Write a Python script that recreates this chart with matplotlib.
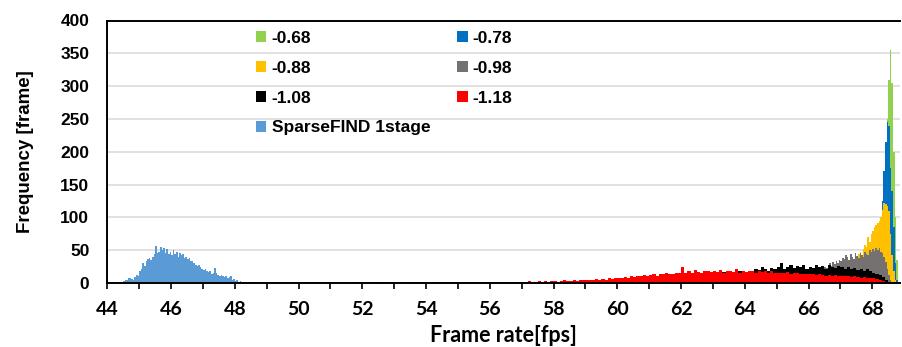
import numpy as np
import matplotlib
matplotlib.use("Agg")
import matplotlib.pyplot as plt
from matplotlib.patches import Patch

# ---------------- data (frequency per frame-rate bin) ----------------
sf_start, sf_width = 44.30, 0.05
sf_vals = [1, 1, 2, 2, 3, 4, 5, 8, 7, 6, 5, 9, 12, 10, 18, 22, 30, 26, 34, 36,
           38, 35, 40, 44, 56, 45, 48, 55, 50, 54, 46, 52, 44, 48, 42, 50, 44, 47, 40, 45,
           42, 44, 38, 40, 36, 38, 33, 34, 30, 28, 26, 27, 24, 22, 20, 21, 19, 17, 18, 14,
           16, 23, 15, 12, 11, 12, 10, 9, 10, 8, 9, 10, 5, 6, 3, 4, 2, 3, 2, 1,
           1, 2, 1, 1, 1, 0, 1, 0, 1, 0, 1, 0, 0, 1]

red_start, red_width = 50.0, 0.1
red_vals = [0, 0, 1, 0, 0, 1, 0, 0, 0, 1,
            0, 1, 0, 0, 1, 0, 0, 1, 0, 0,
            1, 0, 1, 0, 0, 1, 1, 0, 1, 0,
            1, 1, 0, 1, 0, 1, 1, 0, 1, 1,
            1, 0, 1, 1, 1, 0, 1, 1, 2, 1,
            1, 1, 2, 1, 1, 2, 1, 1, 2, 1,
            2, 1, 2, 2, 1, 2, 2, 1, 2, 2,
            2, 2, 3, 2, 2, 3, 2, 3, 2, 3,
            3, 2, 3, 4, 3, 3, 4, 3, 4, 5,
            4, 5, 4, 6, 5, 6, 5, 7, 6, 7,
            8, 7, 9, 8, 10, 9, 11, 10, 12, 11,
            12, 13, 11, 14, 13, 15, 14, 13, 16, 15,
            24, 16, 18, 15, 20, 17, 16, 19, 18, 17,
            19, 17, 20, 16, 18, 19, 17, 21, 16, 18,
            17, 19, 18, 16, 19, 17, 18, 16, 18, 16,
            16, 15, 16, 17, 14, 16, 15, 14, 13, 14,
            13, 14, 12, 13, 12, 11, 12, 11, 12, 10,
            11, 10, 10, 9, 10, 9, 8, 9, 8, 8,
            7, 6, 5, 3, 2, 1]

blk_start, blk_width = 59.0, 0.1
blk_vals = [1, 1, 2, 1, 2, 2, 3, 2, 3, 3,
            3, 4, 4, 5, 4, 5, 6, 5, 6, 7,
            7, 8, 7, 9, 8, 10, 9, 10, 11, 10,
            12, 11, 13, 12, 14, 13, 12, 14, 15, 13,
            14, 16, 15, 17, 16, 18, 17, 16, 19, 18,
            17, 19, 18, 22, 20, 24, 21, 19, 23, 22,
            24, 31, 22, 25, 27, 23, 26, 24, 28, 22,
            25, 23, 27, 24, 26, 22, 28, 25, 23, 26,
            24, 22, 25, 21, 23, 20, 22, 19, 21, 18,
            16, 14, 12, 9, 5, 2]

gry_start, gry_width = 65.0, 0.05
gry_vals = [3, 4, 5, 5, 6, 7, 6, 8, 9, 8, 10, 9, 11, 12, 10, 13, 12, 14, 15, 14,
            16, 15, 18, 20, 17, 22, 19, 24, 21, 26, 25, 23, 28, 30, 26, 32, 29, 34, 31, 35,
            33, 38, 36, 42, 39, 35, 44, 40, 37, 45, 41, 38, 46, 43, 40, 48, 44, 42, 50, 47,
            52, 49, 54, 50, 53, 48, 45, 40, 32, 22, 12, 4]

yel_start, yel_width = 66.5, 0.05
yel_vals = [3, 4, 5, 6, 6, 8, 9, 10, 12, 14, 15, 17, 18, 20, 22, 25, 28, 30, 33, 36,
            40, 44, 47, 42, 52, 58, 55, 70, 62, 74, 80, 85, 88, 92, 95, 100, 112, 122, 121, 118,
            110, 75, 42, 18, 4]

blu_start, blu_width = 67.8, 0.05
blu_vals = [10, 15, 20, 25, 35, 45, 55, 65, 80, 100, 125, 170, 215, 246, 240, 175, 140, 85, 30, 5]

grn_start, grn_width = 68.0, 0.05
grn_vals = [20, 30, 40, 55, 70, 90, 120, 150, 190, 250, 310, 355, 305, 200, 100, 35]

x_ticks = [44, 46, 48, 50, 52, 54, 56, 58, 60, 62, 64, 66, 68]
y_ticks = [0, 50, 100, 150, 200, 250, 300, 350, 400]

series = [
    ("SparseFIND 1stage", sf_start, sf_width, sf_vals, "#5b9bd5"),
    ("-0.68", grn_start, grn_width, grn_vals, "#92d050"),
    ("-0.78", blu_start, blu_width, blu_vals, "#0070c0"),
    ("-0.88", yel_start, yel_width, yel_vals, "#ffc000"),
    ("-0.98", gry_start, gry_width, gry_vals, "#767171"),
    ("-1.08", blk_start, blk_width, blk_vals, "#000000"),
    ("-1.18", red_start, red_width, red_vals, "#ff0000"),
]

# ---------------- figure ----------------
W, H = 902, 347
fig = plt.figure(figsize=(W / 100, H / 100), dpi=100)
ax = fig.add_axes([107.4 / W, 1 - 283 / H, (900 - 107.4) / W, (283 - 20.5) / H])

handles = {}
for i, (name, start, width, vals, col) in enumerate(series):
    v = np.asarray(vals, dtype=float)
    edges = start + np.arange(len(v) + 1) * width
    ax.stairs(v, edges, fill=True, color=col, linewidth=0, zorder=2 + i)
    handles[name] = Patch(facecolor=col, edgecolor="none")

ax.set_xlim(44, 68.87)
ax.set_ylim(0, 400)
ax.set_yticks(y_ticks)
ax.set_xticks(x_ticks)
ax.set_xticks(np.arange(44, 69, 1), minor=True)
ax.grid(axis="y", color="#d9d9d9", linewidth=1.1, zorder=0)
ax.set_axisbelow(True)

for s in ["left", "bottom", "top"]:
    ax.spines[s].set_color("black")
    ax.spines[s].set_linewidth(1.4)
    ax.spines[s].set_zorder(20)
ax.spines["right"].set_visible(False)

ax.tick_params(axis="y", length=0, pad=13)
ax.tick_params(axis="x", which="both", direction="out", length=4, width=1.2, color="black", pad=9)
for t in ax.get_yticklabels():
    t.set_fontfamily("Liberation Sans")
    t.set_fontweight("bold")
    t.set_fontsize(12.5)
for t in ax.get_xticklabels():
    t.set_fontfamily("Lato")
    t.set_fontweight("bold")
    t.set_fontsize(14)

ax.set_xlabel("Frame rate[fps]", fontfamily="Lato", fontweight="bold", fontsize=15.5, labelpad=5)
ax.set_ylabel("Frequency [frame]", fontfamily="Liberation Sans", fontweight="bold", fontsize=13.5, labelpad=19)

order = ["-0.68", "-0.88", "-1.08", "SparseFIND 1stage", "-0.78", "-0.98", "-1.18"]
leg = ax.legend([handles[k] for k in order], order, ncol=2, frameon=False,
                loc="upper left", bbox_to_anchor=(256 / W, 1 - 31 / H),
                bbox_transform=fig.transFigure,
                prop={"family": "Liberation Sans", "weight": "bold", "size": 12.5},
                handlelength=0.6, handleheight=0.6, handletextpad=0.3,
                columnspacing=1.55, labelspacing=0.85, borderpad=0, borderaxespad=0)
leg.set_zorder(30)

fig.savefig("out.png", dpi=100)
